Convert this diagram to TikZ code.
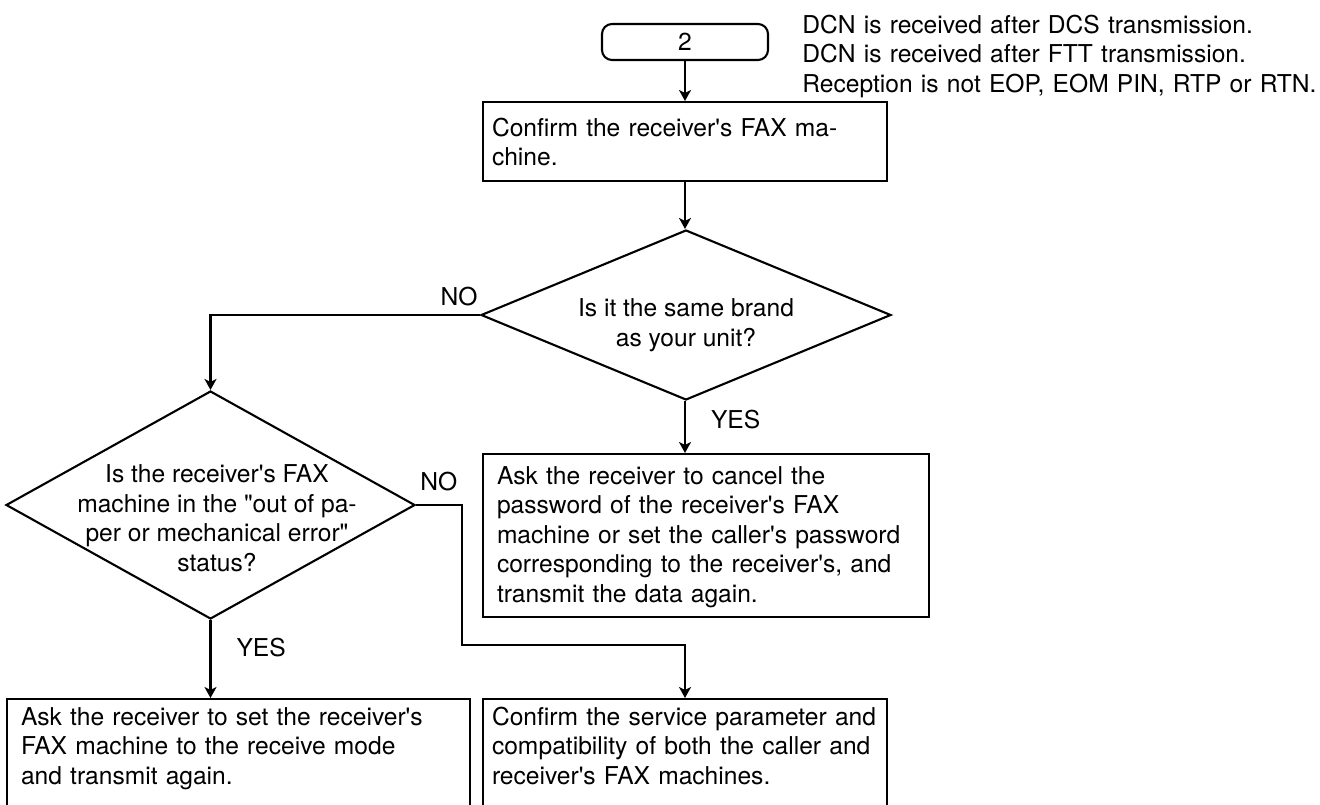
\documentclass[tikz,border=0pt]{standalone}
\usepackage{fontspec}
\setmainfont{TeX Gyre Heros}[Ligatures=TeXOff]
\usetikzlibrary{shapes.geometric,arrows.meta}
\tikzset{
caja/.style={draw,line width=1.2pt,rectangle,align=left,inner xsep=0.28cm,inner ysep=0pt,anchor=north},
rombo/.style={draw,line width=1.2pt,diamond,inner sep=0pt},
textoRombo/.style={align=center,inner sep=0pt},
inicio/.style={draw,line width=1.2pt,rounded corners=0.2cm,minimum width=3.32cm,minimum height=0.72cm,inner sep=0pt},
flecha/.style={line width=1.2pt,-{Stealth[length=0.22cm,width=0.24cm,inset=0.06cm]}},
respuesta/.style={inner sep=0pt}
}
\begin{document}
\begin{tikzpicture}[font=\fontsize{14pt}{16.8pt}\selectfont]
    \useasboundingbox (0,0) rectangle (26.4,-16.1);

    \node[inicio] (ini) at (13.70,-0.84) {2};
    \node[anchor=north west,align=left,text width=10.5cm,inner sep=0pt,text height=0.36cm] (nota) at (16.04,-0.30)
        {DCN is received after DCS transmission.\\DCN is received after FTT transmission.\\Reception is not EOP, EOM PIN, RTP or RTN.};
    \node[caja,inner xsep=0.18cm,text width=7.72cm,text height=0.68cm,text depth=0.9cm] (conf) at (13.70,-2.02)
        {Confirm the receiver's FAX ma-\\chine.};
    \node[rombo,minimum width=8.2cm,minimum height=3.40cm] (marca) at (13.72,-6.30) {};
    \node[textoRombo] (marcaTxt) at (13.72,-6.50) {Is it the same brand\\as your unit?};
    \node[caja,text width=8.36cm,text height=0.6cm,text depth=2.66cm] (pide) at (14.12,-9.06)
        {Ask the receiver to cancel the\\password of the receiver's FAX\\machine or set the caller's password\\corresponding to the receiver's, and\\transmit the data again.};
    \node[rombo,minimum width=8.18cm,minimum height=4.56cm] (papel) at (4.21,-10.10) {};
    \node[textoRombo] (papelTxt) at (4.34,-10.36) {Is the receiver's FAX\\machine in the "out of pa-\\per or mechanical error"\\status?};
    \node[caja,text width=8.70cm,text height=0.52cm,text depth=2.6cm] (izq) at (4.77,-13.96)
        {Ask the receiver to set the receiver's\\FAX machine to the receive mode\\and transmit again.};
    \node[caja,inner xsep=0.18cm,text width=7.72cm,text height=0.52cm,text depth=2.6cm] (der) at (13.70,-13.96)
        {Confirm the service parameter and\\compatibility of both the caller and\\receiver's FAX machines.};
    \coordinate (giro) at (9.24,-12.90);

    \draw[flecha] (ini.south) -- (ini.south |- conf.north);
    \draw[flecha] (ini.south |- conf.south) -- (ini.south |- marca.north);
    \draw[flecha] (marca.west) -| (papel.north);
    \draw[flecha] (ini.south |- marca.south) -- node[respuesta,pos=0.36,anchor=west,xshift=0.5cm] (si1) {YES} (ini.south |- pide.north);
    \draw[flecha] (papel.south) -- node[respuesta,pos=0.35,anchor=west,xshift=0.5cm] (si2) {YES} (papel.south |- izq.north);
    \draw[flecha] (papel.east) -| (giro) -| (ini.south |- der.north);

    \node[respuesta,anchor=south east] (no1) at ([xshift=-0.04cm,yshift=0.18cm]marca.west) {NO};
    \node[respuesta,anchor=south west] (no2) at ([xshift=0.08cm,yshift=0.28cm]papel.east) {NO};
\end{tikzpicture}
\end{document}
